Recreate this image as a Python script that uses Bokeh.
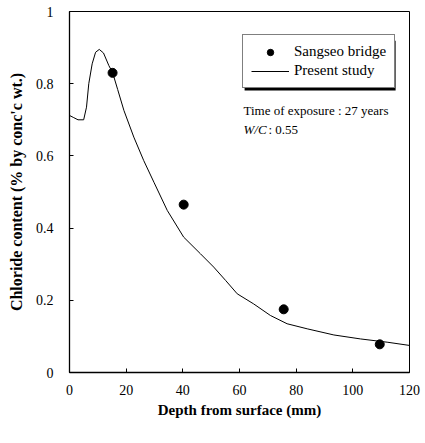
from bokeh.plotting import figure
from bokeh.models import Range1d, Legend, LegendItem, Label, BoxAnnotation, FixedTicker
from bokeh.embed import file_html
from bokeh.resources import INLINE

# Present study (model curve)
depth_model = [0, 1.5, 3, 5, 6, 6.8, 8, 9.2, 10.5, 12, 13.9, 15.2, 17, 19.2, 22.7,
               26.2, 29.8, 34.5, 40.3, 46.2, 50.9, 55.1, 59.2, 65, 70.9, 76.8,
               83.9, 93.3, 102.7, 112.1, 120]
chloride_model = [0.712, 0.706, 0.700, 0.700, 0.735, 0.800, 0.855, 0.887, 0.895,
                  0.885, 0.850, 0.831, 0.784, 0.726, 0.652, 0.587, 0.527, 0.449,
                  0.375, 0.329, 0.292, 0.255, 0.218, 0.190, 0.158, 0.135, 0.121,
                  0.104, 0.093, 0.084, 0.075]

# Sangseo bridge (measured)
depth_obs = [15.2, 40.3, 75.6, 109.5]
chloride_obs = [0.830, 0.465, 0.175, 0.078]

x_ticks = [0, 20, 40, 60, 80, 100, 120]
y_ticks = [0, 0.2, 0.4, 0.6, 0.8, 1]
y_tick_labels = ["0", "0.2", "0.4", "0.6", "0.8", "1"]

SERIF = "Liberation Serif"

p = figure(width=425, height=443, output_backend="svg", toolbar_location=None,
           x_range=Range1d(0, 120), y_range=Range1d(0, 1),
           min_border_left=69, min_border_right=16, min_border_top=11,
           min_border_bottom=71)

p.xgrid.visible = False
p.ygrid.visible = False
p.outline_line_color = "black"
p.outline_line_width = 1
p.background_fill_color = "white"
p.border_fill_color = "white"

line_r = p.line(depth_model, chloride_model, line_color="black", line_width=1)
pts_r = p.scatter(depth_obs, chloride_obs, size=9, marker="circle",
                  fill_color="black", line_color="black")

for ax in (p.xaxis[0], p.yaxis[0]):
    ax.axis_line_color = "black"
    ax.axis_line_width = 1.3
    ax.major_tick_in = 4
    ax.major_tick_out = 0
    ax.minor_tick_in = 0
    ax.minor_tick_out = 0
    ax.major_tick_line_color = "black"
    ax.major_label_text_font = SERIF
    ax.major_label_text_font_size = "14px"
    ax.major_label_text_color = "black"
    ax.axis_label_text_font = SERIF
    ax.axis_label_text_font_style = "bold"
    ax.axis_label_text_color = "black"

p.xaxis.ticker = FixedTicker(ticks=x_ticks)
p.yaxis.ticker = FixedTicker(ticks=y_ticks)
p.yaxis.major_label_overrides = {t: s for t, s in zip(y_ticks, y_tick_labels)}

p.xaxis.axis_label = "Depth from surface (mm)"
p.xaxis.axis_label_text_font_size = "15px"
p.xaxis.major_label_standoff = 12
p.xaxis.axis_label_standoff = 4

p.yaxis.axis_label = "Chloride content (% by conc'c wt.)"
p.yaxis.axis_label_text_font_size = "16px"
p.yaxis.major_label_standoff = 16
p.yaxis.axis_label_standoff = 8

# stray tilde mark near the y-axis title
p.add_layout(Label(x=-17.3, y=0.834, text="~", text_font=SERIF,
                   text_font_size="12px", text_align="center",
                   text_baseline="middle", text_color="black"))

# legend shadow
p.add_layout(BoxAnnotation(left=61.8, right=115.1, top=0.919, bottom=0.781,
                           fill_color="black", fill_alpha=1, line_alpha=0,
                           level="overlay"))

legend = Legend(items=[LegendItem(label="Sangseo bridge", renderers=[pts_r]),
                       LegendItem(label="Present study", renderers=[line_r])],
                location=(173, 284), margin=0, padding=8, spacing=2,
                glyph_width=38, glyph_height=16, label_height=16,
                label_standoff=5, label_text_font=SERIF,
                label_text_font_size="15px", label_text_color="black",
                border_line_color="black", border_line_width=1,
                background_fill_color="white", background_fill_alpha=1,
                level="overlay")
p.add_layout(legend)

p.add_layout(Label(x=61.4, y=0.726, text="Time of exposure : 27 years",
                   text_font=SERIF, text_font_size="13px", text_color="black",
                   text_baseline="alphabetic"))
p.add_layout(Label(x=61.4, y=0.673, text="W/C", text_font=SERIF,
                   text_font_style="italic", text_font_size="13px",
                   text_color="black", text_baseline="alphabetic"))
p.add_layout(Label(x=70.2, y=0.673, text=": 0.55", text_font=SERIF,
                   text_font_size="13px", text_color="black",
                   text_baseline="alphabetic"))

open("out.html", "w").write(file_html(p, INLINE))
